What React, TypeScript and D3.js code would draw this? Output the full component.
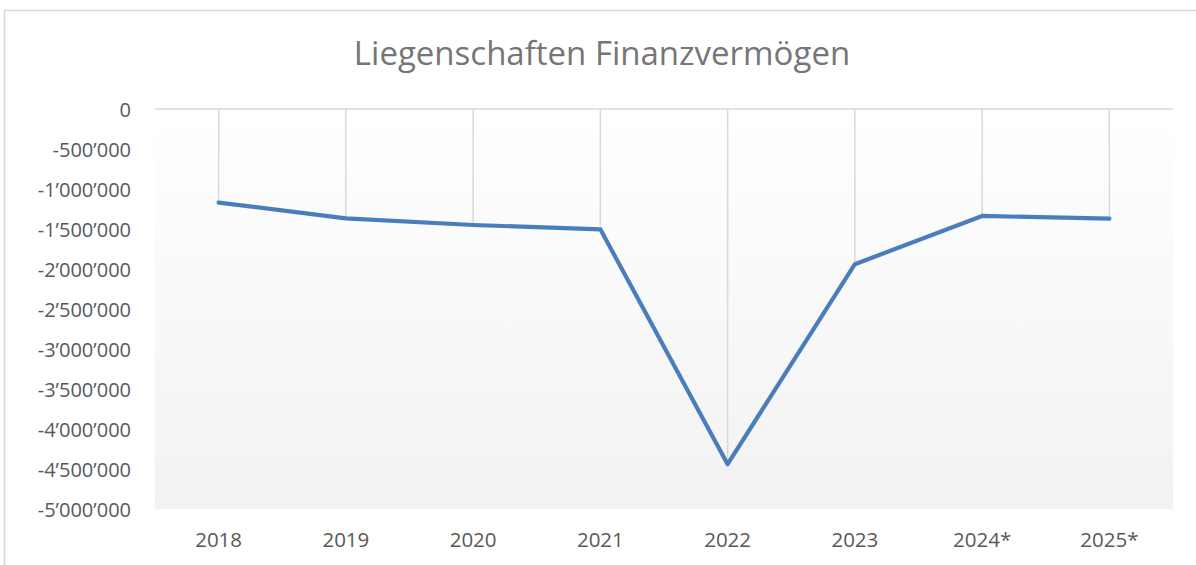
import React from "react";
import * as d3 from "d3";

const categories: string[] = ["2018", "2019", "2020", "2021", "2022", "2023", "2024*", "2025*"];
const values: number[] = [-1170000, -1367000, -1450000, -1504000, -4440000, -1940000, -1337000, -1371000];
const yTicks: number[] = [0, -500000, -1000000, -1500000, -2000000, -2500000, -3000000, -3500000, -4000000, -4500000, -5000000];
const title = "Liegenschaften Finanzvermögen";

const W = 1196;
const H = 565;
const plot = { left: 155, right: 1173, top: 109, bottom: 509 };
const FONT = "'Open Sans', 'Noto Sans', sans-serif";
const TEXT = "#595959";
const TITLE = "#767676";
const GRID = "#d9d9d9";
const LINE = "#4a7ebb";

function fmt(v: number): string {
  const s = d3.format(",")(Math.abs(v)).replace(/,/g, "\u2019");
  return v < 0 ? "-" + s : s;
}

export default function App() {
  const x = d3.scaleBand<string>().domain(categories).range([plot.left, plot.right]).paddingInner(0).paddingOuter(0);
  const y = d3.scaleLinear().domain([-5000000, 0]).range([plot.bottom, plot.top]);
  const cx = (c: string) => (x(c) as number) + x.bandwidth() / 2;
  const line = d3
    .line<number>()
    .x((_, i) => cx(categories[i]))
    .y((v) => y(v));

  return (
    <svg width={W} height={H} style={{ position: "fixed", left: 0, top: 0, background: "#fff" }} fontFamily={FONT}>
      <defs>
        <linearGradient id="bg" x1="0" y1="0" x2="0" y2="1">
          <stop offset="0" stopColor="#ffffff" />
          <stop offset="1" stopColor="#f2f2f2" />
        </linearGradient>
      </defs>
      <rect x={0} y={0} width={W} height={H} fill="#fff" />
      <rect x={4.5} y={10.5} width={1300} height={700} fill="none" stroke={GRID} strokeWidth={1.5} />
      <rect x={plot.left} y={plot.top} width={plot.right - plot.left} height={plot.bottom - plot.top} fill="url(#bg)" />
      <text x={602} y={65} textAnchor="middle" fontSize={33} fill={TITLE}>
        {title}
      </text>
      {categories.map((c, i) => (
        <line key={"d" + c} x1={cx(c)} x2={cx(c)} y1={y(0)} y2={y(values[i])} stroke={GRID} strokeWidth={1.5} />
      ))}
      <line x1={plot.left} x2={plot.right} y1={y(0)} y2={y(0)} stroke={GRID} strokeWidth={1.5} />
      {yTicks.map((t) => (
        <text key={"y" + t} x={131} y={y(t)} textAnchor="end" dominantBaseline="central" fontSize={20} fill={TEXT}>
          {fmt(t)}
        </text>
      ))}
      {categories.map((c) => (
        <text key={"x" + c} x={cx(c)} y={547} textAnchor="middle" fontSize={20.5} fill={TEXT}>
          {c}
        </text>
      ))}
      <path d={line(values) || ""} fill="none" stroke={LINE} strokeWidth={4.2} strokeLinejoin="round" strokeLinecap="round" />
    </svg>
  );
}
